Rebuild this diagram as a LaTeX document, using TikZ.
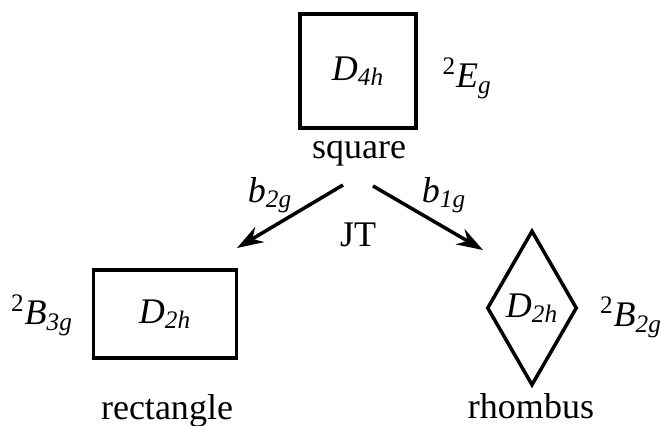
\documentclass[tikz,border=0pt]{standalone}
\usepackage{fontspec}
\setmainfont{Liberation Serif}
\usetikzlibrary{arrows.meta,shapes.geometric}
\tikzset{
  shapebox/.style={
    draw=black,
    line width=2pt,
    inner sep=0pt,
    font=\fontsize{20.5}{23}\selectfont
  },
  lbl/.style={font=\fontsize{20.5}{23}\selectfont, inner sep=1pt},
  arrow/.style={-{Stealth[length=15pt,width=10pt]},line width=2pt}
}
\newcommand{\grp}[2]{\textit{#1}\textsubscript{\textit{#2}}}
\newcommand{\term}[3]{\textsuperscript{#1}\textit{#2}\textsubscript{\textit{#3}}}

\begin{document}
\begin{tikzpicture}[x=0.02cm,y=-0.02cm]
  \useasboundingbox (0,0) rectangle (661,425);

  \node[shapebox, rectangle, minimum width=2.32cm, minimum height=2.28cm] (square) at (358,71) {\grp{D}{4h}};
  \node[lbl] (sqterm) at (467,78) {\term{2}{E}{g}};
  \node[lbl] (sqname) at (359,154) {square};

  \node[shapebox, rectangle, minimum width=2.86cm, minimum height=1.76cm] (rect) at (165,314) {\grp{D}{2h}};
  \node[lbl] (rectterm) at (42,315) {\term{2}{B}{3g}};
  \node[lbl] (rectname) at (167,411) {rectangle};

  \node[shapebox, diamond, minimum width=1.8cm, minimum height=3.1cm] (rhomb) at (532,308) {\grp{D}{2h}};
  \node[lbl] (rhombterm) at (631,317) {\term{2}{B}{2g}};
  \node[lbl] (rhombname) at (531,406) {rhombus};

  \coordinate (lstart) at (343,185);
  \coordinate (lend) at (237,248);
  \coordinate (rstart) at (373,186);
  \coordinate (rend) at (483,250);
  \draw[arrow] (lstart) -- (lend);
  \draw[arrow] (rstart) -- (rend);

  \node[lbl] (lmode) at (270,195) {\grp{b}{2g}};
  \node[lbl] (rmode) at (444,195) {\grp{b}{1g}};
  \node[lbl] (jt) at (358,235) {JT};
\end{tikzpicture}
\end{document}
